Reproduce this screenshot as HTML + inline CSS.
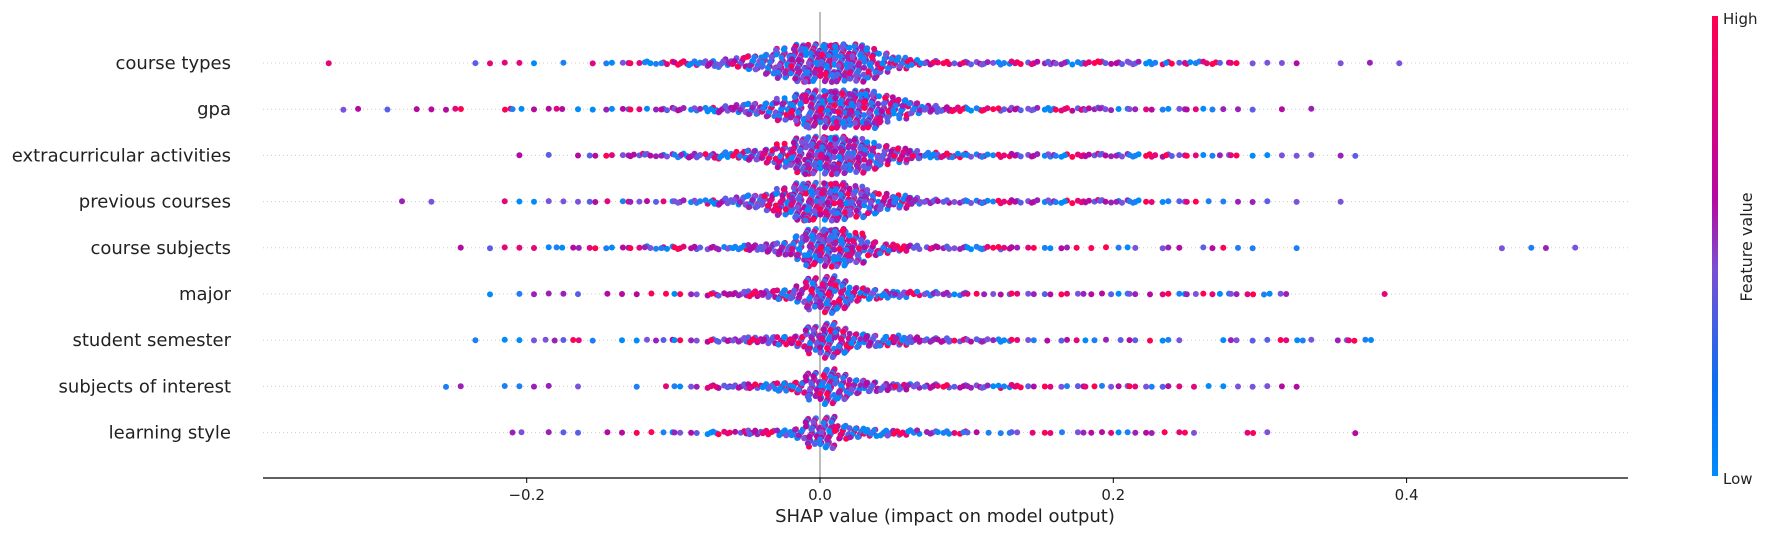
<!DOCTYPE html>
<html><head><meta charset="utf-8">
<style>
html,body{margin:0;padding:0;background:#fff;}
svg{display:block;font-family:"DejaVu Sans","Liberation Sans",sans-serif;}
</style></head>
<body>
<svg id="chart" width="1785" height="536" viewBox="0 0 1785 536">
<defs>
<linearGradient id="cbar" x1="0" y1="1" x2="0" y2="0">
<stop offset="0" stop-color="#008bfb"/>
<stop offset="0.2" stop-color="#0a6ff0"/>
<stop offset="0.45" stop-color="#7a4fd2"/>
<stop offset="0.6" stop-color="#b409a3"/>
<stop offset="1" stop-color="#ff0052"/>
</linearGradient>
</defs>
<g id="grid"></g>
<line x1="820" y1="12" x2="820" y2="478" stroke="#999" stroke-width="1.3"/>
<g id="dots"></g>
<g id="labels"></g>
<line x1="263" y1="478" x2="1628" y2="478" stroke="#000" stroke-width="1.2"/>
<g id="ticks"></g>
<text x="945" y="522" font-size="18" text-anchor="middle" fill="#222">SHAP value (impact on model output)</text>
<rect x="1712" y="16" width="6" height="460" fill="url(#cbar)"/>
<text x="1723" y="24" font-size="15" fill="#222">High</text>
<text x="1723" y="484" font-size="15" fill="#222">Low</text>
<text x="0" y="0" font-size="16" fill="#222" text-anchor="middle" transform="translate(1752,247) rotate(-90)">Feature value</text>
</svg>
<script>
const features = ["course types","gpa","extracurricular activities","previous courses","course subjects","major","student semester","subjects of interest","learning style"];
const binStart = -0.35;
const binWidth = 0.01;
const countsCourseTypes = [0,1,0,0,0,0,0,0,0,0, 0,1,1,1,1,1,0,1,0,1, 2,2,2,4,4,6,6,8,10,14, 20,28,38,48,58,62,58,48,38,24, 14,8,6,4,4,4,4,4,4,4, 4,4,4,4,4,4,4,4,4,2, 4,4,2,2,1,1,1,1,0,0, 1,0,1,0,1,0];
const countsGpa = [0,0,1,1,0,1,0,1,1,1, 2,0,0,2,2,1,1,2,1,1, 2,2,2,2,4,4,4,6,8,12, 16,20,28,38,48,58,62,58,48,34, 24,16,10,6,6,4,4,4,4,4, 4,4,4,4,4,2,2,2,2,2, 2,2,1,1,1,0,1,0,1,0];
const countsExtra = [0,0,0,0,0,0,0,0,0,0, 0,0,0,0,1,0,1,0,1,2, 2,2,4,4,4,6,6,6,8,10, 14,20,30,44,58,62,54,44,34,24, 18,12,8,6,6,4,4,4,4,4, 4,4,4,4,4,4,4,4,4,2, 2,2,2,2,1,1,1,1,1,0, 1,1];
const countsPrevious = [0,0,0,0,0,0,1,0,1,0, 0,0,0,1,1,1,1,1,1,2, 1,2,2,2,2,4,4,6,8,12, 18,24,34,48,58,58,52,40,30,20, 16,10,6,4,4,4,4,4,4,4, 4,4,4,4,4,4,4,2,2,2, 2,1,1,1,1,1,0,1,0,0, 1];
const countsSubjects = [0,0,0,0,0,0,0,0,0,0, 1,0,1,1,1,1,1,2,2,2, 2,2,2,4,4,4,4,4,4,6, 8,12,18,30,50,60,54,38,20,14, 8,6,4,4,4,4,4,4,2,2, 2,2,1,1,1,2,1,0,2,1, 0,2,1,1,1,0,0,1,0,0, 0,0,0,0,0,0,0,0,0,0,0,1,0,1,1,0,1,0];
const countsMajor = [0,0,0,0,0,0,0,0,0,0, 0,0,1,0,1,1,1,1,1,0, 1,1,1,1,1,2,2,4,4,6, 8,10,14,20,40,50,38,20,14,10, 8,6,6,4,4,2,2,2,2,2, 2,2,2,1,2,2,2,1,2,2, 2,2,2,2,2,2,2,0,0,0, 0,0,0,1];
const countsSemester = [0,0,0,0,0,0,0,0,0,0, 0,1,0,1,1,1,2,1,2,1, 0,1,1,2,2,2,2,4,4,6, 8,10,12,16,34,46,34,20,16,14, 12,8,6,6,4,4,4,4,2,2, 1,2,1,2,1,1,2,1,2,1, 0,0,1,2,1,1,2,2,1,0, 2,2,2];
const countsInterest = [0,0,0,0,0,0,0,0,0,1, 1,0,0,1,1,1,1,0,1,0, 0,0,1,0,1,2,2,4,4,6, 6,8,12,16,34,46,34,20,14,10, 8,6,6,4,4,4,4,4,4,2, 2,2,2,2,2,2,2,2,2,1, 1,1,1,1,1,1,1,1,0,0];
const countsLearning = [0,0,0,0,0,0,0,0,0,0, 0,0,0,0,2,0,1,1,1,0, 1,1,1,1,2,2,2,4,4,4, 6,6,8,14,36,42,20,14,10,8, 6,6,4,4,4,2,1,2,2,1, 2,1,2,1,2,2,1,2,1,2, 1,0,0,0,2,1,0,0,0,0, 0,1];
const rowCounts = [countsCourseTypes,countsGpa,countsExtra,countsPrevious,countsSubjects,countsMajor,countsSemester,countsInterest,countsLearning];
const xTicks = [-0.2, 0.0, 0.2, 0.4];
const xTickLabels = ["\u22120.2","0.0","0.2","0.4"];

const NS = "http://www.w3.org/2000/svg";
const xScale = v => 820 + v * 1466.5;
const rowY = i => 63 + i * 46.2;
const palette = ["#ff0052","#b30aa0","#7a52dc","#008bfb","#e2067a","#5a5ee6","#9b20b8","#1e7ff5"];
const frac = t => t - Math.floor(t);

const grid = document.getElementById('grid');
const labels = document.getElementById('labels');
const dots = document.getElementById('dots');
const ticks = document.getElementById('ticks');

features.forEach((f, i) => {
  const y = rowY(i);
  const gl = document.createElementNS(NS, 'line');
  gl.setAttribute('x1', 263); gl.setAttribute('x2', 1628);
  gl.setAttribute('y1', y); gl.setAttribute('y2', y);
  gl.setAttribute('stroke', '#ccc'); gl.setAttribute('stroke-dasharray', '1,3');
  
  
  grid.appendChild(gl);
  const t = document.createElementNS(NS, 'text');
  t.setAttribute('x', 231); t.setAttribute('y', y + 6);
  t.setAttribute('text-anchor', 'end'); t.setAttribute('font-size', '18');
  t.setAttribute('fill', '#222');
  t.textContent = f;
  
  
  labels.appendChild(t);

  const counts = rowCounts[i];
  const g = document.createElementNS(NS, 'g');
  
  
  let k = 0;
  counts.forEach((n, b) => {
    if (!n) return;
    const v0 = binStart + b * binWidth;
    const half = n <= 2 ? 0.5 : Math.min(19, n * 0.4);
    for (let j = 0; j < n; j++) {
      const v = v0 + (n === 1 ? 0.5 : frac(j * 0.6180339 + 0.21 + b * 0.13)) * binWidth;
      const u = frac(j * 0.7548776 + 0.37 + b * 0.29) * 2 - 1;
      const off = u * half;
      const c = document.createElementNS(NS, 'circle');
      c.setAttribute('cx', xScale(v).toFixed(1));
      c.setAttribute('cy', (y + off).toFixed(1));
      c.setAttribute('r', 3);
      const ci = Math.floor(frac(k * 0.3819660 + b * 0.5700 + i * 0.1100 + j * 0.0917) * palette.length);
      c.setAttribute('fill', palette[ci]);
      
      
      g.appendChild(c);
      k++;
    }
  });
  dots.appendChild(g);
});

xTicks.forEach((v, i) => {
  const x = xScale(v);
  const l = document.createElementNS(NS, 'line');
  l.setAttribute('x1', x); l.setAttribute('x2', x);
  l.setAttribute('y1', 478); l.setAttribute('y2', 483);
  l.setAttribute('stroke', '#000');
  
  
  ticks.appendChild(l);
  const t = document.createElementNS(NS, 'text');
  t.setAttribute('x', x); t.setAttribute('y', 500);
  t.setAttribute('text-anchor', 'middle'); t.setAttribute('font-size', '15');
  t.setAttribute('fill', '#222');
  t.textContent = xTickLabels[i];
  
  
  ticks.appendChild(t);
});
</script>
</body></html>
